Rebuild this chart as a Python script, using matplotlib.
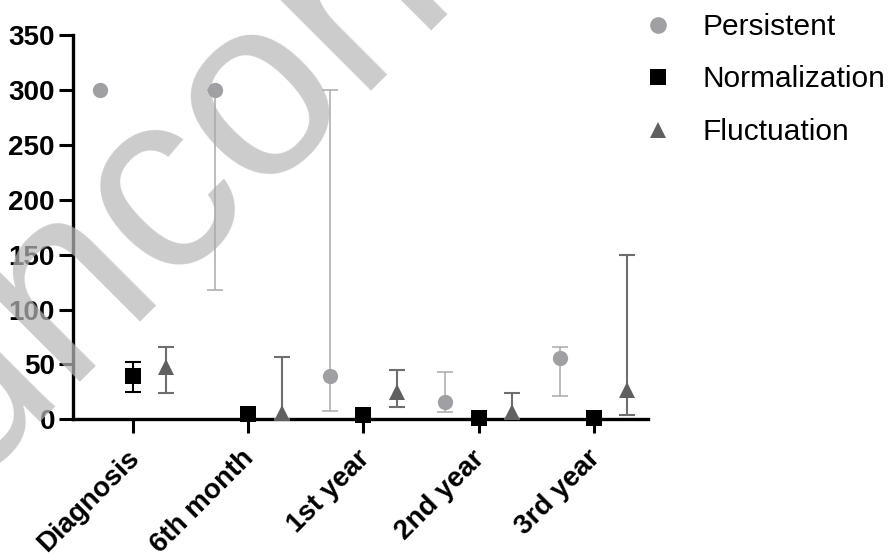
import numpy as np
import matplotlib
matplotlib.use("Agg")
import matplotlib.pyplot as plt
import matplotlib.transforms as mtransforms
from matplotlib.lines import Line2D

plt.rcParams["font.family"] = ["Liberation Sans", "DejaVu Sans"]

# ---------- data ----------
categories = ["Diagnosis", "6th month", "1st year", "2nd year", "3rd year"]

persistent = [300, 300, 39, 15.5, 55.5]
persistent_low = [np.nan, 118, 8, 7, 21]
persistent_high = [np.nan, 300, 300, 43, 65.5]

normalization = [39, 5, 4, 1, 1]
normalization_low = [24.5, np.nan, np.nan, np.nan, np.nan]
normalization_high = [52.5, np.nan, np.nan, np.nan, np.nan]

fluctuation = [48, 6, 25, 7, 27]
fluctuation_low = [24, 0, 11.5, 0, 4]
fluctuation_high = [66, 57, 45, 24, 150]

yticks = [0, 50, 100, 150, 200, 250, 300, 350]

# ---------- styles ----------
SERIES = [
    ("Persistent", persistent, persistent_low, persistent_high, -0.29,
     "o", "#a0a0a4", "#a9a9a9", 1.1),
    ("Normalization", normalization, normalization_low, normalization_high, 0.0,
     "s", "#000000", "#000000", 1.5),
    ("Fluctuation", fluctuation, fluctuation_low, fluctuation_high, 0.29,
     "^", "#606060", "#6e6e6e", 1.5),
]

fig = plt.figure(figsize=(8.92, 5.56), dpi=100)
ax = fig.add_axes([73 / 892, (556 - 419.3) / 556, (648 - 73) / 892, (419.3 - 35) / 556])

x = np.arange(len(categories))
for name, vals, lo, hi, off, mk, col, ecol, elw in SERIES:
    vals = np.array(vals, dtype=float)
    lo = np.array(lo, dtype=float)
    hi = np.array(hi, dtype=float)
    ok = ~np.isnan(lo)
    ax.errorbar(x[ok] + off, vals[ok], yerr=[vals[ok] - lo[ok], hi[ok] - vals[ok]],
                fmt="none", ecolor=ecol, elinewidth=elw, capsize=6, capthick=elw,
                zorder=4, clip_on=False)
    ax.plot(x + off, vals, linestyle="none", marker=mk, markersize=11,
            color=col, markeredgewidth=0, zorder=5, clip_on=False)

ax.set_xlim(-0.52, 4.47)
ax.set_ylim(0, 350)
ax.set_yticks(yticks)
ax.set_xticks(x)
ax.set_xticklabels(categories, rotation=45, ha="right", rotation_mode="anchor")

for side in ("top", "right"):
    ax.spines[side].set_visible(False)
for side in ("left", "bottom"):
    ax.spines[side].set_linewidth(2.4)

ax.tick_params(axis="both", direction="out", length=10, width=2.2, color="black",
               labelsize=20, pad=3)
shift = mtransforms.ScaledTranslation(-0.07, -0.08, fig.dpi_scale_trans)
for lab in ax.get_xticklabels():
    lab.set_fontweight("bold")
    lab.set_transform(lab.get_transform() + shift)
for lab in ax.get_yticklabels():
    lab.set_fontweight("bold")

# ---------- legend ----------
handles = [
    Line2D([0], [0], marker=mk, linestyle="none", color=col, markeredgewidth=0,
           markersize=12, label=name)
    for name, _, _, _, _, mk, col, _, _ in SERIES
]
fig.legend(handles=handles, loc="upper left", bbox_to_anchor=(643 / 892, 1 - 13 / 556),
           bbox_transform=fig.transFigure, frameon=False, fontsize=21.5,
           handlelength=1.0, handletextpad=1.0, labelspacing=0.82, borderpad=0,
           borderaxespad=0)

# ---------- watermark ----------
ax.text(-32 / 892, 61 / 556, "uncorrected proof", transform=fig.transFigure,
        fontsize=184, color="#b8b8b8", alpha=0.72, rotation=45,
        rotation_mode="anchor", ha="left", va="baseline", zorder=3, clip_on=False)

fig.savefig("out.png", dpi=100)
